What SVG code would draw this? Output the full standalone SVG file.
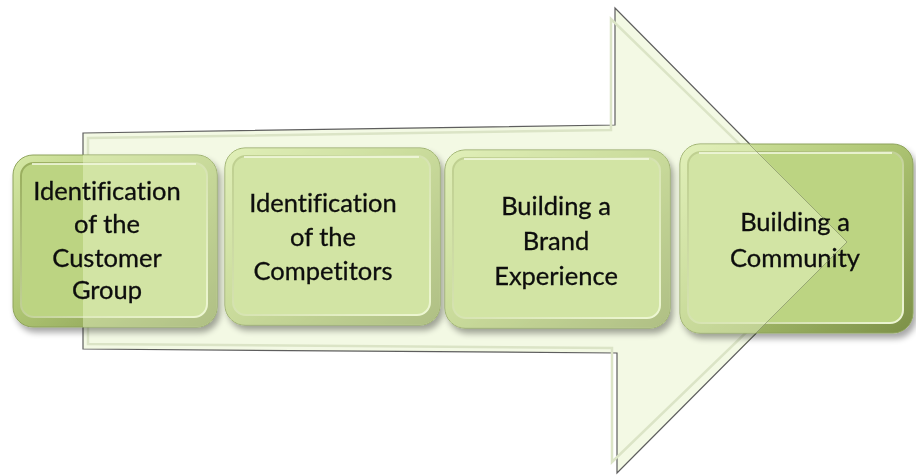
<svg xmlns="http://www.w3.org/2000/svg" width="916" height="475" viewBox="0 0 916 475">
<defs>
<style>
.lbl{font-family:Lato,"Open Sans","Liberation Sans",sans-serif;font-size:25.5px;fill:#0d0d0d;stroke:#0d0d0d;stroke-width:0.3;text-anchor:middle;font-variant-ligatures:none}
.outer{fill:url(#gOuter);stroke:#8ea35c;stroke-width:1}
.inner{fill:#bcd482;stroke:url(#gRim);stroke-width:2}
.lite{fill:#eef8cf;fill-opacity:0.45}
.shine{fill:none;stroke:#f3f9e0;stroke-width:2;stroke-opacity:0.8}
</style>
<linearGradient id="gOuter" x1="0" y1="0" x2="1" y2="1">
<stop offset="0" stop-color="#d6e8a6"/>
<stop offset="0.45" stop-color="#afc674"/>
<stop offset="1" stop-color="#7c9048"/>
</linearGradient>
<linearGradient id="gRim" x1="0" y1="0" x2="1" y2="1">
<stop offset="0" stop-color="#98ad5c"/>
<stop offset="1" stop-color="#eef6d6"/>
</linearGradient>
<clipPath id="arrowClip">
<polygon points="83,133 615,125 615,8 847,242 617,473 617,353 83,349"/>
</clipPath>
<filter id="sh" x="-10%" y="-10%" width="125%" height="130%">
<feGaussianBlur in="SourceAlpha" stdDeviation="3"/>
<feOffset dx="3" dy="5" result="b"/>
<feComponentTransfer><feFuncA type="linear" slope="0.35"/></feComponentTransfer>
<feMerge><feMergeNode/><feMergeNode in="SourceGraphic"/></feMerge>
</filter>
</defs>
<rect width="916" height="475" fill="#ffffff"/>
<g id="arrow">
<polygon points="83,133 615,125 615,8 847,242 617,473 617,353 83,349" fill="#f3f9e4" stroke="#5e5e5e" stroke-width="1.2"/>
<polygon points="88,138 611,130 611,19 840,242 612,462 612,348 88,344" fill="none" stroke="#dbe4c6" stroke-width="2.5"/>
</g>
<g id="n1" filter="url(#sh)">
<rect class="outer" x="13" y="155" width="204" height="172" rx="20"/>
<rect class="inner" x="21" y="163" width="186" height="154" rx="13"/>
<rect class="lite" x="13" y="155" width="204" height="172" rx="20" clip-path="url(#arrowClip)"/>
<path class="shine" d="M32 164 H196"/>
<text class="lbl" x="107" y="200">Identification</text>
<text class="lbl" x="107" y="233">of the</text>
<text class="lbl" x="107" y="267">Customer</text>
<text class="lbl" x="107" y="299">Group</text>
</g>
<g id="n2" filter="url(#sh)">
<rect class="outer" x="225" y="148" width="215" height="177" rx="20"/>
<rect class="inner" x="233" y="156" width="197" height="159" rx="13"/>
<rect class="lite" x="225" y="148" width="215" height="177" rx="20" clip-path="url(#arrowClip)"/>
<path class="shine" d="M244 157 H419"/>
<text class="lbl" x="323" y="212">Identification</text>
<text class="lbl" x="323" y="246">of the</text>
<text class="lbl" x="323" y="280">Competitors</text>
</g>
<g id="n3" filter="url(#sh)">
<rect class="outer" x="445" y="150" width="225" height="178" rx="20"/>
<rect class="inner" x="453" y="158" width="207" height="160" rx="13"/>
<rect class="lite" x="445" y="150" width="225" height="178" rx="20" clip-path="url(#arrowClip)"/>
<path class="shine" d="M464 159 H649"/>
<text class="lbl" x="556" y="215">Building a</text>
<text class="lbl" x="556" y="250">Brand</text>
<text class="lbl" x="556" y="285">Experience</text>
</g>
<g id="n4" filter="url(#sh)">
<rect class="outer" x="680" y="144" width="233" height="189" rx="20"/>
<rect class="inner" x="688" y="152" width="215" height="171" rx="13"/>
<rect class="lite" x="680" y="144" width="233" height="189" rx="20" clip-path="url(#arrowClip)"/>
<path class="shine" d="M699 153 H892"/>
<text class="lbl" x="795" y="231">Building a</text>
<text class="lbl" x="795" y="267">Community</text>
</g>
<g id="connectors">
<polyline points="740,135 847,242 740,349" fill="none" stroke="#6f7a55" stroke-width="1" stroke-opacity="0.55"/>
</g>
</svg>
